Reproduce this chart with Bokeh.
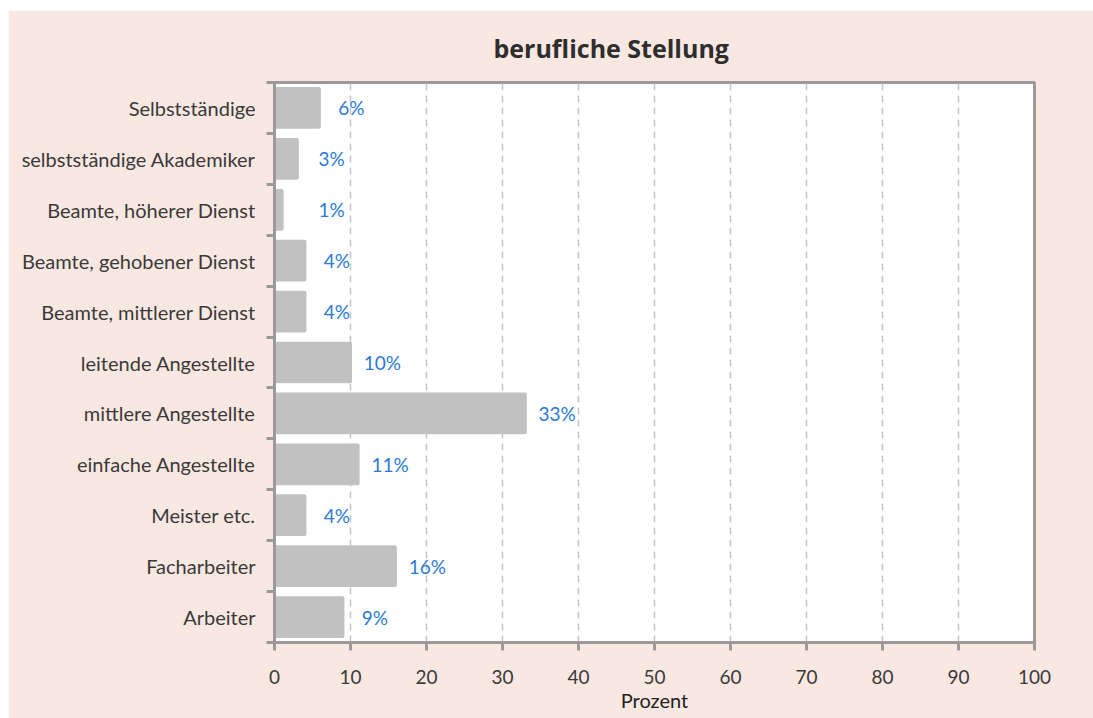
import numpy as np
from bokeh.plotting import figure
from bokeh.models import ColumnDataSource, Range1d, FixedTicker, LabelSet
from bokeh.core.properties import value
from bokeh.embed import file_html
from bokeh.resources import INLINE

categories = ["Selbstständige", "selbstständige Akademiker", "Beamte, höherer Dienst",
              "Beamte, gehobener Dienst", "Beamte, mittlerer Dienst", "leitende Angestellte",
              "mittlere Angestellte", "einfache Angestellte", "Meister etc.",
              "Facharbeiter", "Arbeiter"]
values = [6.1, 3.2, 1.2, 4.2, 4.2, 10.2, 33.2, 11.2, 4.2, 16.1, 9.2]
x_ticks = [0, 10, 20, 30, 40, 50, 60, 70, 80, 90, 100]

n = len(categories)
ypos = np.array([n - 1 - i + 0.5 for i in range(n)])
vals = np.array(values)
label_x = np.maximum(vals + 4.0, 7.5)
labels = [f"{round(v):d}%" for v in vals]

src = ColumnDataSource(dict(y=ypos, v=vals, lx=label_x, txt=labels))

FONT = "Lato"
GRAY = "#9a9a9a"

p = figure(width=1085, height=708, output_backend="svg", toolbar_location=None,
           x_range=Range1d(0, 100), y_range=Range1d(0, n),
           min_border_left=266, min_border_right=59, min_border_top=71, min_border_bottom=76,
           background_fill_color="white", border_fill_color="#f9e8e1")
p.margin = (10, 0, 0, 8)

p.title.text = "berufliche Stellung"
p.title.align = "left"
p.title.offset = 219
p.title.text_font = "Open Sans"
p.title.text_font_size = "25px"
p.title.text_font_style = "bold"
p.title.text_color = "#2e2e2e"
p.title.standoff = 36

p.hbar(y="y", right="v", left=0, height=0.82, source=src, color="#c1c1c1",
       line_color=None, border_radius=2)

p.add_layout(LabelSet(x="lx", y="y", text="txt", source=src, text_align="center",
                      text_baseline="middle", text_color="#2b7ad3",
                      text_font=value(FONT), text_font_size=value("19px")))

p.outline_line_color = GRAY
p.outline_line_width = 3

# x axis
xa = p.xaxis[0]
xa.ticker = FixedTicker(ticks=x_ticks)
xa.axis_line_color = GRAY
xa.axis_line_width = 3
xa.major_tick_line_color = GRAY
xa.major_tick_line_width = 3
xa.major_tick_out = 8
xa.major_tick_in = 0
xa.minor_tick_line_color = None
xa.major_label_text_font = FONT
xa.major_label_text_font_size = "19px"
xa.major_label_text_color = "#3a3a3a"
xa.major_label_standoff = 19
xa.axis_label = "Prozent"
xa.axis_label_text_font = FONT
xa.axis_label_text_font_size = "20px"
xa.axis_label_text_font_style = "normal"
xa.axis_label_text_color = "#222222"
xa.axis_label_standoff = 1

# y axis
ya = p.yaxis[0]
ya.ticker = FixedTicker(ticks=list(ypos), minor_ticks=list(range(n + 1)))
ya.major_label_overrides = {float(y): c for y, c in zip(ypos, categories)}
ya.axis_line_color = GRAY
ya.axis_line_width = 3
ya.major_tick_line_color = None
ya.major_tick_out = 0
ya.major_tick_in = 0
ya.minor_tick_line_color = GRAY
ya.minor_tick_line_width = 3
ya.minor_tick_out = 8
ya.minor_tick_in = 0
ya.major_label_text_font = FONT
ya.major_label_text_font_size = "20px"
ya.major_label_text_color = "#3a3a3a"
ya.major_label_standoff = 11

p.ygrid.grid_line_color = None
p.xgrid.ticker = FixedTicker(ticks=x_ticks[1:-1])
p.xgrid.grid_line_color = "#c4c4c4"
p.xgrid.grid_line_width = 1.5
p.xgrid.grid_line_dash = "7 5"

open("out.html", "w").write(file_html(p, INLINE))
